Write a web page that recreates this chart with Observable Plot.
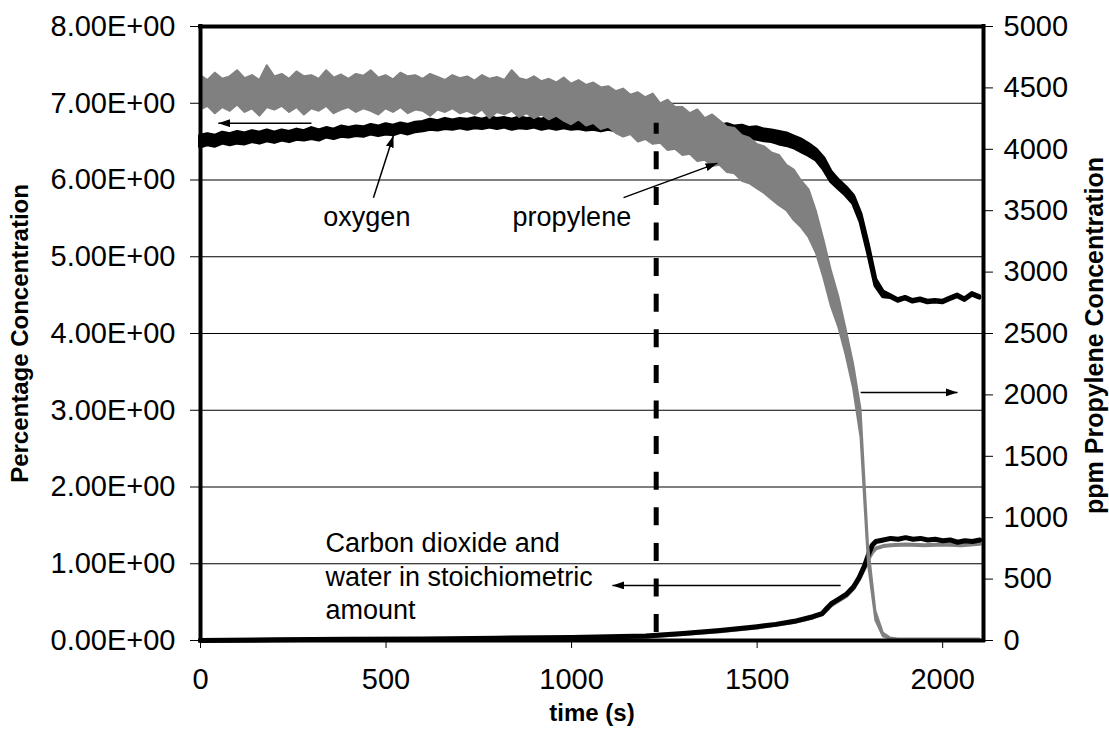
<!DOCTYPE html>
<html>
<head>
<meta charset="utf-8">
<script src="https://cdn.jsdelivr.net/npm/d3@7"></script>
<script src="https://cdn.jsdelivr.net/npm/@observablehq/plot@0.6"></script>
<style>
  body { margin: 0; background: #fff; }
</style>
</head>
<body>
<div id="chart"></div>
<script>
// ---------------- DATA ----------------
// sampling grid of the noisy records (s)
const sampleTimes = d3.range(0, 2101, 20);

// oxygen (% , left axis): upper / lower edge of the noisy trace
const oxygenHi = [
  6.57,6.59,6.57,6.61,6.59,6.62,6.60,6.63,6.61,6.64,
  6.61,6.64,6.62,6.65,6.63,6.67,6.64,6.67,6.65,6.69,
  6.67,6.69,6.68,6.71,6.69,6.72,6.70,6.73,6.71,6.74,
  6.75,6.78,6.76,6.79,6.77,6.79,6.78,6.80,6.78,6.81,
  6.79,6.80,6.78,6.81,6.79,6.80,6.78,6.81,6.79,6.80,
  6.78,6.80,6.77,6.79,6.77,6.78,6.76,6.78,6.75,6.77,
  6.74,6.76,6.74,6.75,6.73,6.74,6.72,6.74,6.71,6.73,
  6.70,6.72,6.69,6.70,6.67,6.68,6.65,6.64,6.62,6.60,
  6.56,6.52,6.46,6.39,6.28,6.10,5.99,5.90,5.79,5.55,
  5.15,4.70,4.54,4.49,4.44,4.47,4.43,4.45,4.42,4.43,
  4.42,4.46,4.50,4.45,4.52,4.48
];
const oxygenLo = [
  6.43,6.46,6.44,6.48,6.46,6.48,6.47,6.50,6.48,6.51,
  6.49,6.52,6.50,6.53,6.52,6.54,6.52,6.56,6.54,6.57,
  6.56,6.58,6.57,6.60,6.58,6.60,6.59,6.62,6.60,6.63,
  6.64,6.66,6.65,6.67,6.66,6.68,6.66,6.68,6.67,6.69,
  6.67,6.69,6.66,6.68,6.67,6.69,6.66,6.68,6.66,6.68,
  6.66,6.67,6.65,6.66,6.64,6.66,6.64,6.65,6.63,6.64,
  6.62,6.63,6.61,6.62,6.60,6.61,6.59,6.60,6.58,6.59,
  6.57,6.57,6.55,6.56,6.54,6.53,6.51,6.50,6.47,6.45,
  6.42,6.37,6.32,6.26,6.14,5.98,5.89,5.80,5.69,5.45,
  5.05,4.62,4.48,4.47,4.42,4.45,4.41,4.43,4.40,4.41,
  4.40,4.44,4.48,4.43,4.50,4.46
];

// propylene (ppm, right axis): upper / lower edge of the noisy trace
const propyleneHiPpm = [
  4600,4560,4620,4570,4590,4640,4575,4600,4560,4680,
  4590,4610,4570,4630,4590,4600,4570,4640,4580,4605,
  4570,4610,4595,4640,4580,4600,4565,4620,4590,4600,
  4570,4610,4585,4560,4600,4575,4590,4555,4600,4570,
  4585,4560,4640,4575,4560,4590,4550,4570,4540,4580,
  4530,4560,4520,4540,4500,4510,4470,4490,4440,4460,
  4420,4450,4370,4400,4340,4340,4290,4320,4250,4280,
  4230,4180,4170,4110,4090,4040,4020,3970,3950,3870,
  3830,3740,3670,3490,3260,3010,2800,2530,2250,1880,
  780,240,60,20,12,12,12,12,12,12,
  12,12,12,12,12,12
];
const propyleneLoPpm = [
  4320,4350,4290,4340,4310,4360,4300,4330,4270,4340,
  4320,4350,4300,4340,4280,4330,4310,4350,4290,4320,
  4340,4300,4330,4310,4280,4330,4300,4340,4290,4320,
  4310,4270,4320,4300,4330,4290,4310,4280,4320,4250,
  4300,4280,4310,4260,4290,4250,4280,4240,4270,4230,
  4200,4240,4190,4210,4160,4180,4130,4100,4120,4060,
  4080,4040,4050,3990,4000,3950,3960,3900,3910,3860,
  3870,3810,3800,3740,3720,3680,3640,3590,3540,3500,
  3420,3360,3280,3150,2950,2720,2550,2320,2050,1650,
  620,160,30,8,5,5,5,5,5,5,
  5,5,5,5,5,5
];

// carbon dioxide and water (% , left axis)
const co2BlackTime = [0,200,400,600,800,1000,1100,1200,1300,1400,1500,1550,1600,1650,1675,1690,1700,1720,1740,1760,1775,1790,1800,1810,1820,1840,1860,1880,1900,1920,1940,1960,1980,2000,2020,2040,2060,2080,2100];
const co2BlackPct  = [0.0,0.01,0.015,0.02,0.03,0.04,0.05,0.06,0.09,0.13,0.18,0.21,0.25,0.31,0.35,0.43,0.48,0.54,0.60,0.70,0.82,0.98,1.12,1.24,1.29,1.31,1.33,1.32,1.34,1.32,1.33,1.31,1.32,1.30,1.31,1.28,1.30,1.29,1.31];
const co2GrayTime  = [0,400,800,1000,1200,1400,1500,1600,1650,1675,1690,1700,1720,1740,1760,1775,1790,1800,1810,1820,1840,1860,1900,1950,2000,2050,2100];
const co2GrayPct   = [0,0.01,0.02,0.03,0.05,0.12,0.17,0.24,0.30,0.34,0.41,0.46,0.52,0.58,0.68,0.80,0.95,1.06,1.15,1.20,1.23,1.24,1.25,1.24,1.25,1.24,1.26];

// axes
const xTicks = [0, 500, 1000, 1500, 2000];
const leftTicks = [0, 1, 2, 3, 4, 5, 6, 7, 8];
const leftTickLabels = ["0.00E+00","1.00E+00","2.00E+00","3.00E+00","4.00E+00","5.00E+00","6.00E+00","7.00E+00","8.00E+00"];
const rightTicksPpm = [0, 500, 1000, 1500, 2000, 2500, 3000, 3500, 4000, 4500, 5000];
const gridValues = [1, 2, 3, 4, 5, 6, 7];

// marker line (ignition time) and annotations
const dashTime = 1228;
const dashTop = 6.74;
const labelTexts = ["oxygen", "propylene", "Carbon dioxide and\nwater in stoichiometric\namount"];
const labelT = [331, 841, 337];
const labelV = [5.545, 5.545, 0.855];
const ppmToPct = 8 / 5000; // right axis 0–5000 ppm maps onto left axis 0–8
const arrows = [
  {x1: 466, y1: 5.77, x2: 520, y2: 6.58},
  {x1: 299, y1: 6.74, x2: 48, y2: 6.74},
  {x1: 1140, y1: 5.77, x2: 1393, y2: 6.22},
  {x1: 1779, y1: 2020 * ppmToPct, x2: 2040, y2: 2020 * ppmToPct},
  {x1: 1725, y1: 0.717, x2: 1110, y2: 0.717}
];

// ---------------- BUILD ----------------
const bands = sampleTimes.map((t, i) => ({
  t,
  oxHi: oxygenHi[i], oxLo: oxygenLo[i],
  prHi: propyleneHiPpm[i] * ppmToPct, prLo: propyleneLoPpm[i] * ppmToPct
}));
const co2Black = co2BlackTime.map((t, i) => ({t, v: co2BlackPct[i]}));
const co2Gray = co2GrayTime.map((t, i) => ({t, v: co2GrayPct[i]}));
const labels = labelTexts.map((s, i) => ({s, t: labelT[i], v: labelV[i]}));

const FONT = "'Liberation Sans', Arial, Helvetica, sans-serif";
const GRAY = "#808080";

const svg = Plot.plot({
  width: 1109,
  height: 744,
  marginLeft: 200,
  marginRight: 126,
  marginTop: 26,
  marginBottom: 104,
  x: {domain: [0, 2110], axis: null},
  y: {domain: [0, 8], axis: null},
  style: {fontFamily: FONT, fontSize: "29px", background: "#fff", color: "#000"},
  marks: [
    Plot.ruleY(gridValues, {stroke: "#000", strokeWidth: 1}),
    Plot.areaY(bands, {x: "t", y1: "oxLo", y2: "oxHi", fill: "#000", stroke: "#000", strokeWidth: 4, strokeLinejoin: "round"}),
    Plot.line(co2Gray, {x: "t", y: "v", stroke: GRAY, strokeWidth: 4}),
    Plot.line(co2Black, {x: "t", y: "v", stroke: "#000", strokeWidth: 5}),
    Plot.areaY(bands, {x: "t", y1: "prLo", y2: "prHi", fill: GRAY, stroke: GRAY, strokeWidth: 2, strokeLinejoin: "round"}),
    Plot.ruleX([dashTime], {y1: dashTop, y2: 0, stroke: "#000", strokeWidth: 5, strokeDasharray: "18,17.6", strokeDashoffset: 7}),
    // plot frame
    Plot.ruleX([0, 2110], {stroke: "#000", strokeWidth: 4, strokeLinecap: "square"}),
    Plot.ruleY([0, 8], {stroke: "#000", strokeWidth: 4, strokeLinecap: "square"}),
    // axes
    Plot.axisY(leftTicks, {anchor: "left", tickSize: 10, tickPadding: 15, label: null,
      tickFormat: d => leftTickLabels[Math.round(d)], fontSize: 29}),
    Plot.axisY(rightTicksPpm.map(p => p * ppmToPct), {anchor: "right", tickSize: 9, tickPadding: 11, label: null,
      tickFormat: d => String(Math.round(d / ppmToPct)), fontSize: 29}),
    Plot.axisX(xTicks, {anchor: "bottom", tickSize: 8, tickPadding: 20, label: null,
      tickFormat: d => String(d), fontSize: 29}),
    // axis titles
    Plot.text(["time (s)"], {frameAnchor: "bottom", dy: 80, fontWeight: "bold", fontSize: 24, textAnchor: "middle"}),
    Plot.text(["Percentage Concentration"], {frameAnchor: "left", dx: -180, rotate: -90, fontWeight: "bold", fontSize: 24, textAnchor: "middle"}),
    Plot.text(["ppm Propylene Concentration"], {frameAnchor: "right", dx: 111, dy: 2, rotate: -90, fontWeight: "bold", fontSize: 25, textAnchor: "middle"}),
    // annotations
    Plot.link(arrows, {x1: "x1", y1: "y1", x2: "x2", y2: "y2", stroke: "#000", strokeWidth: 1.5}),
    Plot.text(labels, {x: "t", y: "v", text: "s", textAnchor: "start", fontSize: 27, lineHeight: 1.24, fill: "#000"})
  ]
});

// filled arrowheads on the annotation arrows
const svgSel = d3.select(svg);
const defs = svgSel.insert("defs", ":first-child");
defs.append("marker")
  .attr("id", "arrowHead")
  .attr("viewBox", "0 0 12 8")
  .attr("refX", 12).attr("refY", 4)
  .attr("markerWidth", 12).attr("markerHeight", 8)
  .attr("markerUnits", "userSpaceOnUse")
  .attr("orient", "auto")
  .append("path").attr("d", "M0,0L12,4L0,8Z").attr("fill", "#000");
svgSel.selectAll('g[aria-label="link"] path').attr("marker-end", "url(#arrowHead)");

document.getElementById("chart").appendChild(svg);
</script>
</body>
</html>
